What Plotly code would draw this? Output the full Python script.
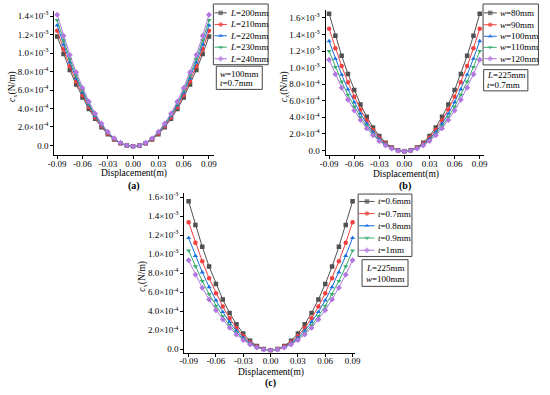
import plotly.graph_objects as go

# ---------------- data (c_x in units of 1e-3 N/m) ----------------
x_disp = [-0.09, -0.0825, -0.075, -0.0675, -0.06, -0.0525, -0.045, -0.0375, -0.03, -0.0225, -0.015, -0.0075,
          0.0, 0.0075, 0.015, 0.0225, 0.03, 0.0375, 0.045, 0.0525, 0.06, 0.0675, 0.075, 0.0825, 0.09]

names_a = ["<i>L</i>=200mm", "<i>L</i>=210mm", "<i>L</i>=220mm", "<i>L</i>=230mm", "<i>L</i>=240mm"]
L200 = [1.180, 0.990, 0.816, 0.659, 0.519, 0.395, 0.288, 0.197, 0.122, 0.064, 0.023, -0.002, -0.010, -0.002, 0.023, 0.064, 0.122, 0.197, 0.288, 0.395, 0.519, 0.659, 0.816, 0.990, 1.180]
L210 = [1.240, 1.040, 0.858, 0.693, 0.546, 0.415, 0.303, 0.207, 0.129, 0.068, 0.025, -0.001, -0.010, -0.001, 0.025, 0.068, 0.129, 0.207, 0.303, 0.415, 0.546, 0.693, 0.858, 1.040, 1.240]
L220 = [1.300, 1.091, 0.900, 0.727, 0.572, 0.436, 0.318, 0.217, 0.136, 0.072, 0.026, -0.001, -0.010, -0.001, 0.026, 0.072, 0.136, 0.217, 0.318, 0.436, 0.572, 0.727, 0.900, 1.091, 1.300]
L230 = [1.355, 1.137, 0.938, 0.758, 0.597, 0.454, 0.331, 0.227, 0.142, 0.075, 0.028, -0.001, -0.010, -0.001, 0.028, 0.075, 0.142, 0.227, 0.331, 0.454, 0.597, 0.758, 0.938, 1.137, 1.355]
L240 = [1.415, 1.187, 0.980, 0.792, 0.623, 0.475, 0.346, 0.237, 0.148, 0.079, 0.030, 0.000, -0.010, 0.000, 0.030, 0.079, 0.148, 0.237, 0.346, 0.475, 0.623, 0.792, 0.980, 1.187, 1.415]

names_b = ["<i>w</i>=80mm", "<i>w</i>=90mm", "<i>w</i>=100mm", "<i>w</i>=110mm", "<i>w</i>=120mm"]
w80 = [1.650, 1.385, 1.143, 0.924, 0.728, 0.555, 0.405, 0.278, 0.174, 0.094, 0.036, 0.002, -0.010, 0.002, 0.036, 0.094, 0.174, 0.278, 0.405, 0.555, 0.728, 0.924, 1.143, 1.385, 1.650]
w90 = [1.470, 1.234, 1.018, 0.823, 0.648, 0.494, 0.360, 0.247, 0.154, 0.083, 0.031, 0.000, -0.010, 0.000, 0.031, 0.083, 0.154, 0.247, 0.360, 0.494, 0.648, 0.823, 1.018, 1.234, 1.470]
w100 = [1.320, 1.108, 0.914, 0.738, 0.581, 0.443, 0.323, 0.221, 0.138, 0.073, 0.027, -0.001, -0.010, -0.001, 0.027, 0.073, 0.138, 0.221, 0.323, 0.443, 0.581, 0.738, 0.914, 1.108, 1.320]
w110 = [1.200, 1.007, 0.830, 0.671, 0.528, 0.402, 0.293, 0.200, 0.124, 0.066, 0.024, -0.002, -0.010, -0.002, 0.024, 0.066, 0.124, 0.200, 0.293, 0.402, 0.528, 0.671, 0.830, 1.007, 1.200]
w120 = [1.095, 0.919, 0.757, 0.612, 0.481, 0.366, 0.266, 0.182, 0.113, 0.059, 0.021, -0.002, -0.010, -0.002, 0.021, 0.059, 0.113, 0.182, 0.266, 0.366, 0.481, 0.612, 0.757, 0.919, 1.095]

names_c = ["<i>t</i>=0.6mm", "<i>t</i>=0.7mm", "<i>t</i>=0.8mm", "<i>t</i>=0.9mm", "<i>t</i>=1mm"]
t06 = [1.555, 1.305, 1.077, 0.870, 0.686, 0.523, 0.381, 0.262, 0.164, 0.088, 0.033, 0.001, -0.010, 0.001, 0.033, 0.088, 0.164, 0.262, 0.381, 0.523, 0.686, 0.870, 1.077, 1.305, 1.555]
t07 = [1.335, 1.120, 0.924, 0.747, 0.588, 0.448, 0.326, 0.224, 0.139, 0.074, 0.027, -0.001, -0.010, -0.001, 0.027, 0.074, 0.139, 0.224, 0.326, 0.448, 0.588, 0.747, 0.924, 1.120, 1.335]
t08 = [1.170, 0.982, 0.809, 0.654, 0.514, 0.392, 0.285, 0.195, 0.121, 0.064, 0.023, -0.002, -0.010, -0.002, 0.023, 0.064, 0.121, 0.195, 0.285, 0.392, 0.514, 0.654, 0.809, 0.982, 1.170]
t09 = [1.037, 0.870, 0.717, 0.579, 0.455, 0.346, 0.252, 0.172, 0.106, 0.055, 0.019, -0.003, -0.010, -0.003, 0.019, 0.055, 0.106, 0.172, 0.252, 0.346, 0.455, 0.579, 0.717, 0.870, 1.037]
t10 = [0.935, 0.784, 0.646, 0.522, 0.410, 0.312, 0.226, 0.154, 0.095, 0.049, 0.016, -0.003, -0.010, -0.003, 0.016, 0.049, 0.095, 0.154, 0.226, 0.312, 0.410, 0.522, 0.646, 0.784, 0.935]

info_a = ["<i>w</i>=100mm", "<i>t</i>=0.7mm"]
info_b = ["<i>L</i>=225mm", "<i>t</i>=0.7mm"]
info_c = ["<i>L</i>=225mm", "<i>w</i>=100mm"]

x_ticks = [-0.09, -0.06, -0.03, 0.0, 0.03, 0.06, 0.09]
x_tick_text = ["-0.09", "-0.06", "-0.03", "0.00", "0.03", "0.06", "0.09"]
y_ticks = [0.0, 0.2, 0.4, 0.6, 0.8, 1.0, 1.2, 1.4, 1.6]
y_tick_text = ["0.0", "2.0×10<sup>-4</sup>", "4.0×10<sup>-4</sup>", "6.0×10<sup>-4</sup>", "8.0×10<sup>-4</sup>",
               "1.0×10<sup>-3</sup>", "1.2×10<sup>-3</sup>", "1.4×10<sup>-3</sup>", "1.6×10<sup>-3</sup>"]
SCALE = 1e-3

# ---------------- styling / layout ----------------
W, H = 550, 395
FONT = "Liberation Serif, Times New Roman, serif"
COLORS = ["#515151", "#F14040", "#1A6FDF", "#37AD6B", "#B177DE"]
SYMBOLS = ["square", "circle", "triangle-up", "triangle-down", "diamond"]

def fx(px):
    return px / W

def fy(py):
    return 1 - py / H

panels = [
    dict(names=names_a, series=[L200, L210, L220, L230, L240], info=info_a, label="(a)",
         ax="", box_x=(49.3, 212.7), box_y=(8.3, 154.0), xr=[-0.0935, 0.096], yr=[-0.104, 1.453], nyt=8,
         leg=(212.0, 1.0, 268.0, 62.5), leg_rows=[10.0, 21.7, 33.2, 44.8, 56.5], sw=(213.3, 219.5, 225.8), tx=226.5,
         ibox=(215.0, 64.0, 262.0, 87.5), irows=[71.5, 81.5], itx=217.0,
         xt=(131.0, 173.0), yt=(7.3, 85.0), lab=(130.7, 185.0)),
    dict(names=names_b, series=[w80, w90, w100, w110, w120], info=info_b, label="(b)",
         ax="2", box_x=(326.7, 488.3), box_y=(6.7, 154.0), xr=[-0.0942, 0.0947], yr=[-0.056, 1.70], nyt=9,
         leg=(487.7, 1.0, 544.3, 62.7), leg_rows=[10.0, 22.0, 33.7, 44.9, 56.4], sw=(488.5, 495.0, 501.7), tx=502.8,
         ibox=(488.3, 67.5, 533.5, 89.0), irows=[73.0, 83.5], itx=490.0,
         xt=(409.3, 173.3), yt=(285.0, 84.5), lab=(408.3, 185.0)),
    dict(names=names_c, series=[t06, t07, t08, t09, t10], info=info_c, label="(c)",
         ax="3", box_x=(182.3, 357.0), box_y=(192.5, 354.0), xr=[-0.0947, 0.0929], yr=[-0.035, 1.642], nyt=9,
         leg=(360.0, 193.5, 415.0, 256.7), leg_rows=[201.0, 213.3, 225.6, 238.0, 250.4], sw=(361.0, 369.0, 376.7), tx=378.0,
         ibox=(364.0, 260.0, 411.0, 287.0), irows=[268.5, 279.5], itx=366.0,
         xt=(270.7, 374.0), yt=(139.3, 277.0), lab=(270.5, 385.0)),
]

fig = go.Figure()
layout = dict(width=W, height=H, autosize=False, margin=dict(l=0, r=0, t=0, b=0),
              paper_bgcolor="white", plot_bgcolor="rgba(0,0,0,0)", showlegend=False,
              font=dict(family=FONT, size=9, color="black"))
shapes = []
annotations = []

OV_X, OV_Y = "x4", "y4"  # pixel-space overlay for legend boxes & labels

for p in panels:
    xa = "x" + p["ax"]
    ya = "y" + p["ax"]
    for i, (nm, vals) in enumerate(zip(p["names"], p["series"])):
        fig.add_trace(go.Scatter(
            x=x_disp, y=[v * SCALE for v in vals], name=nm, xaxis=xa, yaxis=ya,
            mode="lines+markers",
            line=dict(color=COLORS[i], width=1),
            marker=dict(symbol=SYMBOLS[i], size=4.5, color=COLORS[i], line=dict(width=0)),
            showlegend=False))
    axkey = "xaxis" + p["ax"]
    aykey = "yaxis" + p["ax"]
    layout[axkey] = dict(domain=[fx(p["box_x"][0]), fx(p["box_x"][1])], range=p["xr"], anchor=ya,
                         showline=True, linecolor="black", linewidth=1, ticks="outside", ticklen=3,
                         tickwidth=1, tickcolor="black", showgrid=False, zeroline=False,
                         tickmode="array", tickvals=x_ticks, ticktext=x_tick_text,
                         ticklabelstandoff=-3, tickfont=dict(family=FONT, size=9))
    nyt = p["nyt"]
    layout[aykey] = dict(domain=[fy(p["box_y"][1]), fy(p["box_y"][0])],
                         range=[p["yr"][0] * SCALE, p["yr"][1] * SCALE], anchor=xa,
                         showline=True, linecolor="black", linewidth=1, ticks="outside", ticklen=3,
                         tickwidth=1, tickcolor="black", showgrid=False, zeroline=False,
                         tickmode="array", tickvals=[v * SCALE for v in y_ticks[:nyt]],
                         ticktext=y_tick_text[:nyt], tickfont=dict(family=FONT, size=9))

    # legend box
    lx0, ly0, lx1, ly1 = p["leg"]
    shapes.append(dict(type="rect", xref=OV_X, yref=OV_Y, x0=lx0, y0=ly0, x1=lx1, y1=ly1,
                       line=dict(color="#444444", width=1), layer="below"))
    s0, sm, s1 = p["sw"]
    for i, (nm, yy) in enumerate(zip(p["names"], p["leg_rows"])):
        fig.add_trace(go.Scatter(
            x=[s0, sm, s1], y=[yy, yy, yy], xaxis=OV_X, yaxis=OV_Y, mode="lines+markers",
            line=dict(color=COLORS[i], width=1),
            marker=dict(symbol=SYMBOLS[i], size=[0, 4.5, 0], color=COLORS[i], line=dict(width=0)),
            hoverinfo="skip", showlegend=False))
        annotations.append(dict(xref=OV_X, yref=OV_Y, x=p["tx"], y=yy, text=nm, showarrow=False,
                                xanchor="left", yanchor="middle", font=dict(family=FONT, size=9)))
    # info box
    ix0, iy0, ix1, iy1 = p["ibox"]
    shapes.append(dict(type="rect", xref=OV_X, yref=OV_Y, x0=ix0, y0=iy0, x1=ix1, y1=iy1,
                       line=dict(color="#444444", width=1), layer="below"))
    for txt, yy in zip(p["info"], p["irows"]):
        annotations.append(dict(xref=OV_X, yref=OV_Y, x=p["itx"], y=yy, text=txt, showarrow=False,
                                xanchor="left", yanchor="middle", font=dict(family=FONT, size=9)))
    # axis titles & panel label
    annotations.append(dict(xref=OV_X, yref=OV_Y, x=p["xt"][0], y=p["xt"][1], text="Displacement(m)",
                            showarrow=False, xanchor="center", yanchor="middle",
                            font=dict(family=FONT, size=9.5)))
    annotations.append(dict(xref=OV_X, yref=OV_Y, x=p["yt"][0], y=p["yt"][1],
                            text="<i>c</i><sub>x</sub>(N/m)", textangle=-90,
                            showarrow=False, xanchor="center", yanchor="middle",
                            font=dict(family=FONT, size=9.5)))
    annotations.append(dict(xref=OV_X, yref=OV_Y, x=p["lab"][0], y=p["lab"][1], text="<b>" + p["label"] + "</b>",
                            showarrow=False, xanchor="center", yanchor="middle",
                            font=dict(family=FONT, size=10)))

layout["xaxis4"] = dict(domain=[0, 1], range=[0, W], visible=False, anchor="y4", fixedrange=True)
layout["yaxis4"] = dict(domain=[0, 1], range=[H, 0], visible=False, anchor="x4", fixedrange=True)
layout["shapes"] = shapes
layout["annotations"] = annotations
fig.update_layout(**layout)

fig.write_html("out.html", config={"displayModeBar": False},
               post_script="document.body.style.margin='0';document.body.style.overflow='hidden';")
